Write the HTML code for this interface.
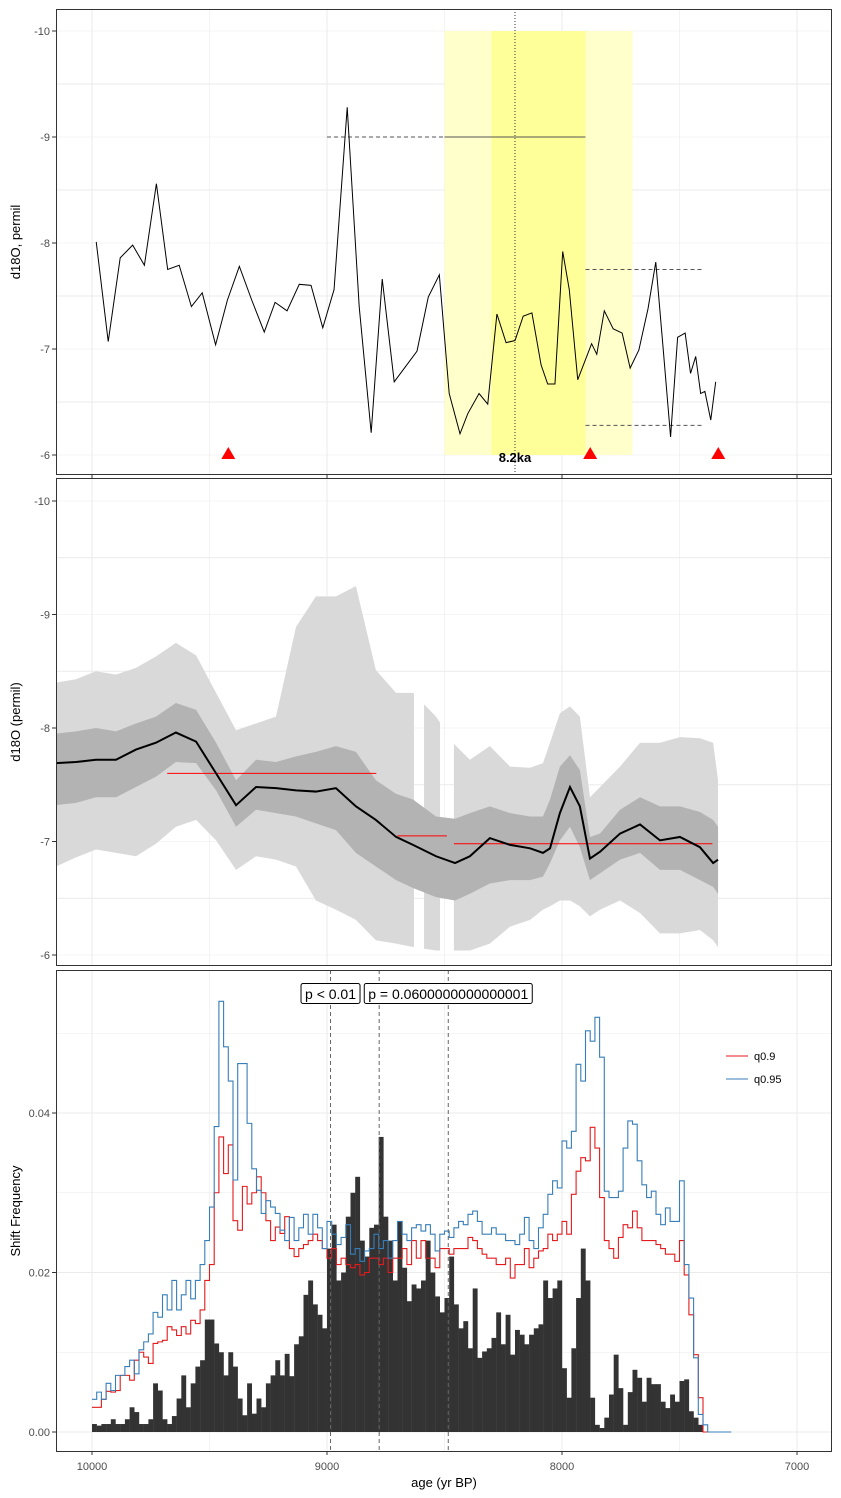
<!DOCTYPE html>
<html><head><meta charset="utf-8">
<style>
html,body{margin:0;padding:0;background:#fff;}
svg{display:block;font-family:"Liberation Sans",sans-serif;}
</style></head>
<body>
<svg id="chart" width="841" height="1498" viewBox="0 0 841 1498" xmlns="http://www.w3.org/2000/svg">
<rect x="0" y="0" width="841" height="1498" fill="#fff"/>
<g id="p1"></g>
<g id="p2"></g>
<g id="p3"></g>
</svg>
<script>
// ---- Panel 1 data: d18O record ----
const ages1 = [9982,9931,9880,9827,9777,9726,9678,9629,9577,9531,9474,9424,9373,9320,9267,9221,9170,9118,9068,9018,8970,8914,8863,8812,8765,8714,8617,8569,8522,8480,8434,8401,8353,8316,8277,8238,8200,8165,8128,8089,8061,8030,7997,7969,7933,7874,7852,7820,7782,7744,7710,7673,7634,7601,7569,7538,7508,7476,7453,7431,7410,7392,7367,7346];
const d18O1 = [-8.01,-7.07,-7.86,-7.98,-7.79,-8.56,-7.75,-7.79,-7.40,-7.53,-7.04,-7.46,-7.78,-7.46,-7.16,-7.44,-7.36,-7.61,-7.60,-7.20,-7.56,-9.28,-7.40,-6.21,-7.66,-6.69,-6.98,-7.49,-7.70,-6.58,-6.20,-6.39,-6.58,-6.48,-7.33,-7.06,-7.08,-7.31,-7.34,-6.85,-6.67,-6.67,-7.92,-7.56,-6.71,-7.05,-6.95,-7.36,-7.19,-7.15,-6.82,-6.99,-7.38,-7.82,-6.99,-6.17,-7.11,-7.15,-6.77,-6.93,-6.58,-6.60,-6.33,-6.69];
const eventOuter = [8500,7700];
const eventInner = [8300,7900];
const eventCenter = [8200];
const shiftAges = [9420,7880,7335];
const segStart = [9000,8500,7900,7900];
const segEnd = [8500,7900,7400,7400];
const segValue = [-9.0,-9.0,-7.75,-6.28];
const segDashed = [true,false,true,true];

// ---- Panel 2 data: ensemble ribbons ----
const ages2 = [10153,10068,9983,9898,9813,9728,9643,9557,9472,9387,9302,9217,9132,9047,8962,8877,8792,8706,8634,8536,8455,8392,8307,8221,8136,8081,8051,8009,7966,7924,7881,7838,7753,7668,7583,7498,7413,7357,7336];
const upper95 = [-8.40,-8.43,-8.50,-8.47,-8.53,-8.63,-8.75,-8.64,-8.31,-7.98,-8.04,-8.10,-8.89,-9.16,-9.16,-9.25,-8.51,-8.31,-8.31,-8.10,-7.85,-7.72,-7.84,-7.66,-7.65,-7.69,-7.87,-8.13,-8.19,-8.10,-7.39,-7.48,-7.66,-7.87,-7.87,-7.92,-7.91,-7.87,-7.54];
const upper68 = [-7.95,-7.97,-8.00,-7.97,-8.04,-8.10,-8.22,-8.16,-7.87,-7.54,-7.72,-7.70,-7.75,-7.79,-7.84,-7.79,-7.54,-7.42,-7.37,-7.22,-7.20,-7.25,-7.31,-7.25,-7.22,-7.22,-7.37,-7.66,-7.76,-7.63,-7.04,-7.07,-7.28,-7.39,-7.31,-7.31,-7.26,-7.19,-7.13];
const median2 = [-7.69,-7.70,-7.72,-7.72,-7.81,-7.87,-7.96,-7.88,-7.60,-7.32,-7.48,-7.47,-7.45,-7.44,-7.47,-7.31,-7.19,-7.04,-6.97,-6.87,-6.81,-6.87,-7.03,-6.97,-6.94,-6.90,-6.94,-7.25,-7.48,-7.31,-6.85,-6.91,-7.07,-7.15,-7.01,-7.04,-6.95,-6.81,-6.84];
const lower68 = [-7.32,-7.34,-7.39,-7.39,-7.48,-7.57,-7.70,-7.69,-7.45,-7.13,-7.28,-7.25,-7.22,-7.16,-7.10,-6.90,-6.78,-6.66,-6.59,-6.51,-6.48,-6.54,-6.63,-6.66,-6.66,-6.69,-6.81,-7.01,-7.13,-6.95,-6.66,-6.72,-6.84,-6.90,-6.75,-6.75,-6.66,-6.60,-6.54];
const lower95 = [-6.78,-6.86,-6.93,-6.90,-6.87,-6.98,-7.13,-7.19,-7.01,-6.75,-6.87,-6.84,-6.78,-6.48,-6.40,-6.31,-6.13,-6.10,-6.07,-6.04,-6.04,-6.04,-6.10,-6.25,-6.31,-6.40,-6.43,-6.48,-6.48,-6.43,-6.34,-6.40,-6.48,-6.37,-6.19,-6.19,-6.22,-6.13,-6.07];
const gapStart = [8630,8519];
const gapEnd = [8587,8460];
const meanSegStart = [9680,8940,8700,8460];
const meanSegEnd = [8940,8790,8490,7360];
const meanSegValue = [-7.6,-7.6,-7.05,-6.98];

// ---- Panel 3 data: shift frequency (units of 0.001), 20-yr bins from 10000 ----
const binStart = 10000, binWidth = 20;
const barFreq = [1.0,0.8,1.0,1.0,1.6,1.0,1.0,1.6,3.1,2.5,1.0,1.0,1.6,6.1,5.2,1.6,1.0,2.0,4.2,7.1,3.1,6.1,8.2,9.0,14.1,14.1,11.1,10.0,7.1,10.0,8.2,4.2,2.1,6.1,2.3,4.2,3.1,6.1,7.1,9.0,7.1,9.8,7.0,11,12,17.2,19,16,14.7,13,23,26,19,20,27,30,32,24,22,25.6,26,37,27,24,19,26.4,20.6,16.4,18.5,18,19,24,20,17,15,16.8,22,16,13,13.9,10.5,18,9.3,10.1,10.5,11.8,15,11,14.7,9.7,12.8,12.2,11,12.2,13,13.5,19,16.8,18,19,8,4.3,10.5,16.8,23,19,4.3,0.9,0.5,1.8,4.7,9.7,5.5,0.9,5,7.8,6.8,3.8,6.8,6,6,3.8,3,4.7,3.8,6.4,6.6,2.6,1.8,0.9];
const q90 = [3.1,3.1,4.1,5.1,5.0,5.2,7.1,7.1,6.5,9.0,10,9.4,8.6,11.1,11.3,11.5,13.2,12.8,12.1,13.2,12.3,14,13.6,15.3,19,21,30,37,32.4,36,26.5,25.3,30.8,28.6,30,32,30,26.5,24,25.7,24.9,27,23,22,23,23.5,24,24.8,24,23,21.8,23,21,21.8,21,20.6,21,19.7,20,21.8,21.8,21,21.8,20,21.8,21.8,23,21,24,21.8,24,21.8,21.8,20.6,23,23,22.3,23,23,23,24.4,24,23,22.3,21.8,21.8,21,21,21.8,19.3,21,21,23,20.6,21.8,22.7,23,24.8,24,24.8,26.4,24.8,29.8,32.7,34.4,34,38.2,35.6,29.4,24,23,21.8,24.4,26,25.6,27.7,25.6,24,24,24,23.5,23,22.3,22.3,21.4,24,19.7,14.7,9.7,4.3,0];
const q95 = [4.1,5,4.1,6.1,5.2,7.1,7.1,8.2,9,7.3,10.3,11.3,12.3,15,14.4,17.2,15.3,19,15.3,17.2,19,16.7,19,21,24,28.2,38.3,54,48.3,44,31.6,46.2,46.2,38.7,33,30.3,27.4,29,28.2,27.4,25.3,24,26.9,24,25.6,27.3,24.8,27.3,25.6,23,26.4,24.8,23.5,24.4,26,22.3,23,21.4,22.7,23,24.8,23,24,21.8,24,26.4,24.8,24,25.6,26,25.2,26,24.8,22.7,24.8,25.2,24.4,25.6,26.4,26,27.3,27.7,26.4,24.8,24.8,25.6,24.8,24.8,24,24,23.5,24.8,26.9,24,23,25.6,27.3,29.8,31.5,30.6,36.5,35.6,37.7,46.1,44,50.3,49,52,47,30.2,29.4,29.4,30.2,35.6,39,38.6,34,31,29.4,30.2,27.3,26,28.1,26.4,26.4,31.5,21,16.8,9.3,2.2,0.9,0,0,0,0,0];
const pLineAges = [8985,8778,8484];
const pLabels = ["p < 0.01","p = 0.0600000000000001"];
const pLabelAt = [8985,8484];
const xTicks = [10000,9000,8000,7000];
const yTicks12 = [-10,-9,-8,-7,-6];
const yTicks3 = [0,0.02,0.04];

// ---- scales ----
const L=56,R=832;
const X = a => 92 + (10000-a)*0.235;
const Y1 = v => 31 + (v+10)*106;
const Y2 = v => 501 + (v+10)*113.5;
const Y3 = f => 1432 - f*7975;
const NS="http://www.w3.org/2000/svg";
function mk(parent,tag,attrs){const e=document.createElementNS(NS,tag);for(const k in attrs)e.setAttribute(k,attrs[k]);parent.appendChild(e);return e;}

function grid(g,top,bot,yfun,yvals){
  const gg=mk(g,'g',{});
  
  
  mk(gg,'rect',{x:L,y:top,width:R-L,height:bot-top,fill:'#fff'});
  for(let a=10000;a>=7000;a-=500){mk(gg,'line',{x1:X(a),x2:X(a),y1:top,y2:bot,stroke:'#ebebeb','stroke-width':a%1000?0.6:1});}
  yvals.forEach((v,i)=>{const y=yfun(v);if(y>top&&y<bot)mk(gg,'line',{x1:L,x2:R,y1:y,y2:y,stroke:'#ebebeb','stroke-width':i%2?0.6:1});});
}
function frame(g,top,bot){
  const f=mk(g,'rect',{x:L+0.5,y:top+0.5,width:R-L-1,height:bot-top-1,fill:'none',stroke:'#333','stroke-width':1});
  
  
}
function yAxis(g,vals,yfun,labels,title,cy){
  vals.forEach((v,i)=>{const y=yfun(v);
    mk(g,'line',{x1:52,x2:56,y1:y,y2:y,stroke:'#333'});
    const t=mk(g,'text',{x:50,y:y+4,'text-anchor':'end','font-size':11,fill:'#4d4d4d'});
    
    
    t.textContent=labels[i];});
  const tt=mk(g,'text',{x:0,y:0,transform:`translate(20,${cy}) rotate(-90)`,'text-anchor':'middle','font-size':13,fill:'#000'});
  
  
  tt.textContent=title;
}

// ===== Panel 1 =====
(function(){
  const g=document.getElementById('p1');const top=9,bot=475;
  const gv=[];for(let v=-10.5;v<=-5.5;v+=0.5)gv.push(v);
  grid(g,top,bot,Y1,gv.map(v=>v));
  const ob=mk(g,'rect',{x:X(eventOuter[0]),y:Y1(-10),width:X(eventOuter[1])-X(eventOuter[0]),height:Y1(-6)-Y1(-10),fill:'#ffffcc'});
  
  
  const ib=mk(g,'rect',{x:X(eventInner[0]),y:Y1(-10),width:X(eventInner[1])-X(eventInner[0]),height:Y1(-6)-Y1(-10),fill:'#ffff99'});
  
  
  const cl=mk(g,'line',{x1:X(eventCenter[0]),x2:X(eventCenter[0]),y1:top,y2:bot,stroke:'#333','stroke-dasharray':'1,2'});
  
  
  segStart.forEach((s,i)=>{const l=mk(g,'line',{x1:X(s),x2:X(segEnd[i]),y1:Y1(segValue[i]),y2:Y1(segValue[i]),stroke:'#555','stroke-width':1,'stroke-dasharray':segDashed[i]?'4,3':'none'});
    
    });
  const p=mk(g,'polyline',{points:ages1.map((a,i)=>X(a)+','+Y1(d18O1[i])).join(' '),fill:'none',stroke:'#000','stroke-width':1});
  
  
  shiftAges.forEach(a=>{const x=X(a),y=Y1(-6);
    const t=mk(g,'polygon',{points:`${x-7},${y+4} ${x+7},${y+4} ${x},${y-8}`,fill:'#ff0000'});
    
    });
  const lb=mk(g,'text',{x:X(8200),y:462,'text-anchor':'middle','font-size':13,'font-weight':'bold',fill:'#000'});
  
  
  lb.textContent='8.2ka';
  frame(g,top,bot);
  xTicks.forEach(a=>mk(g,'line',{x1:X(a),x2:X(a),y1:bot,y2:bot+3,stroke:'#333'}));
  yAxis(g,yTicks12,Y1,yTicks12.map(String),'d18O, permil',242);
})();

// ===== Panel 2 =====
(function(){
  const g=document.getElementById('p2');const top=478,bot=966;
  const gv=[];for(let v=-10.5;v<=-5.5;v+=0.5)gv.push(v);
  grid(g,top,bot,Y2,gv);
  const defs=mk(g,'defs',{});const cp=mk(defs,'clipPath',{id:'gapclip'});
  let edges=[X(ages2[0])-5];gapStart.forEach((s,i)=>{edges.push(X(s));edges.push(X(gapEnd[i]));});edges.push(X(ages2[ages2.length-1])+5);
  for(let i=0;i<edges.length;i+=2)mk(cp,'rect',{x:edges[i],y:top,width:edges[i+1]-edges[i],height:bot-top});
  const band=(up,lo,fill,name,clip)=>{const pts=ages2.map((a,i)=>X(a)+','+Y2(up[i])).concat(ages2.slice().reverse().map((a,j)=>X(a)+','+Y2(lo[ages2.length-1-j])));
    const attrs={points:pts.join(' '),fill:fill};if(clip)attrs['clip-path']='url(#gapclip)';
    const e=mk(g,'polygon',attrs);};
  band(upper95,lower95,'#d9d9d9','ribbon-95',true);
  band(upper68,lower68,'#b3b3b3','ribbon-68',false);
  meanSegStart.forEach((s,i)=>{const l=mk(g,'line',{x1:X(s),x2:X(meanSegEnd[i]),y1:Y2(meanSegValue[i]),y2:Y2(meanSegValue[i]),stroke:'#ff0000','stroke-width':1});
    
    });
  const p=mk(g,'polyline',{points:ages2.map((a,i)=>X(a)+','+Y2(median2[i])).join(' '),fill:'none',stroke:'#000','stroke-width':2});
  
  
  frame(g,top,bot);
  yAxis(g,yTicks12,Y2,yTicks12.map(String),'d18O (permil)',722);
})();

// ===== Panel 3 =====
(function(){
  const g=document.getElementById('p3');const top=970,bot=1452;
  grid(g,top,bot,Y3,[0,0.01,0.02,0.03,0.04,0.05]);
  const bx=i=>X(binStart-i*binWidth);
  const bg=mk(g,'g',{});
  
  
  barFreq.forEach((f,i)=>{const y=Y3(f*0.001);
    const r=mk(bg,'rect',{x:bx(i),y:y,width:bx(i+1)-bx(i)+0.2,height:Y3(0)-y,fill:'#333'});
    
    });
  const step=(arr,color,name)=>{let d=`M${bx(0)},${Y3(arr[0]*0.001)}`;
    arr.forEach((v,i)=>{d+=` L${bx(i)},${Y3(v*0.001)} L${bx(i+1)},${Y3(v*0.001)}`;});
    const p=mk(g,'path',{d:d,fill:'none',stroke:color,'stroke-width':1.1});
    
    };
  step(q90,'#e41a1c','q90-step-line');
  step(q95,'#377eb8','q95-step-line');
  pLineAges.forEach(a=>{const l=mk(g,'line',{x1:X(a),x2:X(a),y1:top,y2:bot,stroke:'#666','stroke-dasharray':'4,3'});
    
    });
  pLabels.forEach((s,i)=>{const cx=X(pLabelAt[i]);
    const t=mk(g,'text',{x:cx,y:999,'text-anchor':'middle','font-size':14,fill:'#000'});
    
    
    t.textContent=s;
    const w=t.getComputedTextLength()+8;
    const r=mk(g,'rect',{x:cx-w/2,y:983.5,width:w,height:20,rx:2,fill:'#fff',stroke:'#000'});
    
    
    g.appendChild(t);});
  const lg=mk(g,'g',{});
  
  
  [['q0.9','#e41a1c',1056],['q0.95','#377eb8',1079]].forEach(e=>{
    mk(lg,'line',{x1:726,x2:748,y1:e[2],y2:e[2],stroke:e[1],'stroke-width':1.1});
    const t=mk(lg,'text',{x:754,y:e[2]+4,'font-size':11,fill:'#000'});
    
    
    t.textContent=e[0];});
  frame(g,top,bot);
  xTicks.forEach(a=>{mk(g,'line',{x1:X(a),x2:X(a),y1:bot,y2:bot+3,stroke:'#333'});
    const t=mk(g,'text',{x:X(a),y:1470,'text-anchor':'middle','font-size':11,fill:'#4d4d4d'});
    
    
    t.textContent=String(a);});
  const xt=mk(g,'text',{x:444,y:1487,'text-anchor':'middle','font-size':13,fill:'#000'});
  
  
  xt.textContent='age (yr BP)';
  yAxis(g,yTicks3,Y3,['0.00','0.02','0.04'],'Shift Frequency',1211);
})();
</script>
</body></html>
